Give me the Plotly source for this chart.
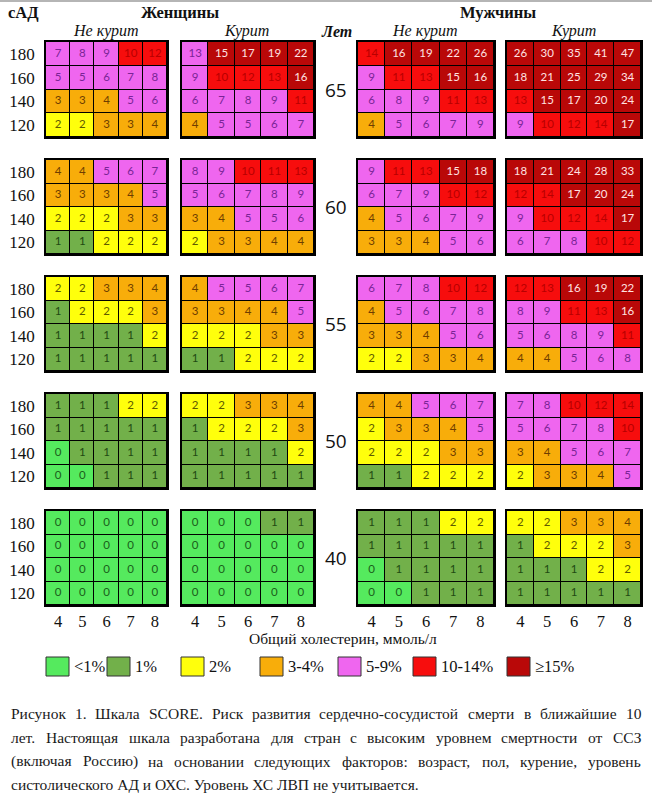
import plotly.graph_objects as go

W, H = 652, 797

# ---------------- data ----------------
AGES = [65, 60, 55, 50, 40]
SBP_LEVELS = [180, 160, 140, 120]          # rows, top to bottom
CHOLESTEROL = [4, 5, 6, 7, 8]              # columns

women_nonsmoker = [
    [[7, 8, 9, 10, 12], [5, 5, 6, 7, 8], [3, 3, 4, 5, 6], [2, 2, 3, 3, 4]],
    [[4, 4, 5, 6, 7], [3, 3, 3, 4, 5], [2, 2, 2, 3, 3], [1, 1, 2, 2, 2]],
    [[2, 2, 3, 3, 4], [1, 2, 2, 2, 3], [1, 1, 1, 1, 2], [1, 1, 1, 1, 1]],
    [[1, 1, 1, 2, 2], [1, 1, 1, 1, 1], [0, 1, 1, 1, 1], [0, 0, 1, 1, 1]],
    [[0, 0, 0, 0, 0], [0, 0, 0, 0, 0], [0, 0, 0, 0, 0], [0, 0, 0, 0, 0]],
]
women_smoker = [
    [[13, 15, 17, 19, 22], [9, 10, 12, 13, 16], [6, 7, 8, 9, 11], [4, 5, 5, 6, 7]],
    [[8, 9, 10, 11, 13], [5, 6, 7, 8, 9], [3, 4, 5, 5, 6], [2, 3, 3, 4, 4]],
    [[4, 5, 5, 6, 7], [3, 3, 4, 4, 5], [2, 2, 2, 3, 3], [1, 1, 2, 2, 2]],
    [[2, 2, 3, 3, 4], [1, 2, 2, 2, 3], [1, 1, 1, 1, 2], [1, 1, 1, 1, 1]],
    [[0, 0, 0, 1, 1], [0, 0, 0, 0, 0], [0, 0, 0, 0, 0], [0, 0, 0, 0, 0]],
]
men_nonsmoker = [
    [[14, 16, 19, 22, 26], [9, 11, 13, 15, 16], [6, 8, 9, 11, 13], [4, 5, 6, 7, 9]],
    [[9, 11, 13, 15, 18], [6, 7, 9, 10, 12], [4, 5, 6, 7, 9], [3, 3, 4, 5, 6]],
    [[6, 7, 8, 10, 12], [4, 5, 6, 7, 8], [3, 3, 4, 5, 6], [2, 2, 3, 3, 4]],
    [[4, 4, 5, 6, 7], [2, 3, 3, 4, 5], [2, 2, 2, 3, 3], [1, 1, 2, 2, 2]],
    [[1, 1, 1, 2, 2], [1, 1, 1, 1, 1], [0, 1, 1, 1, 1], [0, 0, 1, 1, 1]],
]
men_smoker = [
    [[26, 30, 35, 41, 47], [18, 21, 25, 29, 34], [13, 15, 17, 20, 24], [9, 10, 12, 14, 17]],
    [[18, 21, 24, 28, 33], [12, 14, 17, 20, 24], [9, 10, 12, 14, 17], [6, 7, 8, 10, 12]],
    [[12, 13, 16, 19, 22], [8, 9, 11, 13, 16], [5, 6, 8, 9, 11], [4, 4, 5, 6, 8]],
    [[7, 8, 10, 12, 14], [5, 6, 7, 8, 10], [3, 4, 5, 6, 7], [2, 3, 3, 4, 5]],
    [[2, 2, 3, 3, 4], [1, 2, 2, 2, 3], [1, 1, 1, 2, 2], [1, 1, 1, 1, 1]],
]

RISK_LABELS = ["<1%", "1%", "2%", "3-4%", "5-9%", "10-14%", "≥15%"]
RISK_MAX = [0, 1, 2, 4, 9, 14, 100]
RISK_COLORS = ["#55EA5E", "#72B04A", "#FFFF0C", "#F8AD0A", "#EF66EF", "#F70D0D", "#B90808"]
RISK_TEXT_COLORS = ["#1B5E1B", "#1F4A12", "#5E5A00", "#6E3E00", "#7A2496", "#B80000", "#FFE2E2"]

# (group index, age, SBP, cholesterol) -> risk category, where the source colours a cell
# differently from the band of its printed value
COLOR_OVERRIDES = {(1, 65, 180, 4): 4}

CAPTION_LINES = [
    "Рисунок 1. Шкала SCORE. Риск развития сердечно-сосудистой смерти в ближайшие 10",
    "лет. Настоящая шкала разработана для стран с высоким уровнем смертности от ССЗ",
    "(включая Россию) на основании следующих факторов: возраст, пол, курение, уровень",
    "систолического АД и ОХС. Уровень ХС ЛВП не учитывается.",
]

# ---------------- layout geometry (pixels) ----------------
GROUP_X = [(46, 167), (182, 314), (358, 494), (507, 641)]
AGE_Y = [(42, 137), (160, 254), (277, 371), (394, 488), (511, 605)]
SERIF = "Liberation Serif, Times New Roman, serif"
CELLFONT = "Lato, Open Sans, sans-serif"


def px(x):
    return x / W


def py(y):
    return 1 - y / H


def risk_category(v):
    for i, m in enumerate(RISK_MAX):
        if v <= m:
            return i
    return len(RISK_MAX) - 1


n = len(RISK_COLORS)
colorscale = []
for i, c in enumerate(RISK_COLORS):
    colorscale.append([i / n, c])
    colorscale.append([(i + 1) / n, c])

fig = go.Figure()
axes = {}
groups = [women_nonsmoker, women_smoker, men_nonsmoker, men_smoker]
k = 0
for ai, age in enumerate(AGES):
    for gi, grp in enumerate(groups):
        k += 1
        sfx = "" if k == 1 else str(k)
        block = grp[ai]
        cats = [[COLOR_OVERRIDES.get((gi, age, s, c), risk_category(v))
                 for v, c in zip(row, CHOLESTEROL)]
                for row, s in zip(block, SBP_LEVELS)]
        fig.add_trace(go.Heatmap(
            x=CHOLESTEROL, y=SBP_LEVELS[::-1], z=cats[::-1],
            colorscale=colorscale, zmin=-0.5, zmax=n - 0.5, showscale=False,
            xgap=1, ygap=1, hoverinfo="skip",
            xaxis="x" + sfx, yaxis="y" + sfx))
        xs, ys, ts, cs = [], [], [], []
        for row, s, crow in zip(block, SBP_LEVELS, cats):
            for v, c, cat in zip(row, CHOLESTEROL, crow):
                xs.append(c)
                ys.append(s)
                ts.append(str(v))
                cs.append(RISK_TEXT_COLORS[cat])
        fig.add_trace(go.Scatter(
            x=xs, y=ys, text=ts, mode="text",
            textfont=dict(family=CELLFONT, size=11.5, color=cs),
            hoverinfo="skip", showlegend=False,
            xaxis="x" + sfx, yaxis="y" + sfx))
        x0, x1 = GROUP_X[gi]
        y0, y1 = AGE_Y[ai]
        axes["xaxis" + sfx] = dict(
            domain=[px(x0), px(x1)], anchor="y" + sfx, range=[3.5, 8.5],
            tickvals=CHOLESTEROL, ticktext=[str(c) for c in CHOLESTEROL],
            showticklabels=(ai == len(AGES) - 1), ticks="", ticklabelstandoff=0,
            tickfont=dict(family=SERIF, size=16.5, color="#111"),
            showgrid=False, zeroline=False, showline=True, mirror=True,
            linecolor="#000", linewidth=1.5, fixedrange=True)
        axes["yaxis" + sfx] = dict(
            domain=[py(y1), py(y0)], anchor="x" + sfx, range=[110, 190],
            tickvals=SBP_LEVELS, ticktext=[str(s) for s in SBP_LEVELS],
            showticklabels=(gi == 0), ticks="", ticklabelstandoff=6,
            tickfont=dict(family=SERIF, size=17, color="#111"),
            showgrid=False, zeroline=False, showline=True, mirror=True,
            linecolor="#000", linewidth=1.5, fixedrange=True)

annotations = []


def ann(text, x, y, size, family=SERIF, xanchor="center", color="#111"):
    annotations.append(dict(text=text, x=px(x), y=py(y), xref="paper", yref="paper",
                            xanchor=xanchor, yanchor="middle", showarrow=False,
                            borderpad=0, font=dict(family=family, size=size, color=color)))


ann("<b>сАД</b>", 7, 12, 16.5, xanchor="left")
ann("<b>Женщины</b>", 180, 12, 16.5)
ann("<b>Мужчины</b>", 498, 12, 16.5)
ann("<i>Не курит</i>", 106, 31, 16)
ann("<i>Курит</i>", 247, 31, 16)
ann("<b><i>Лет</i></b>", 336, 31, 16)
ann("<i>Не курит</i>", 425, 31, 16)
ann("<i>Курит</i>", 573, 31, 16)
for age, (y0, y1) in zip(AGES, AGE_Y):
    ann(str(age), 336, (y0 + y1) / 2, 19, family="Open Sans, Liberation Sans, sans-serif")
ann("Общий холестерин, ммоль/л", 343, 638, 15.5)

# legend
LEG_X = [46, 107, 181, 260, 338, 413, 507]
shapes = []
for lx, lab, col in zip(LEG_X, RISK_LABELS, RISK_COLORS):
    shapes.append(dict(type="rect", xref="paper", yref="paper",
                       x0=px(lx), x1=px(lx + 23), y0=py(676), y1=py(657),
                       fillcolor=col, line=dict(color="#333", width=1)))
    ann(lab, lx + 27, 666, 16.5, xanchor="left")

# top gray rule of the source page
shapes.append(dict(type="rect", xref="paper", yref="paper", x0=0, x1=1,
                   y0=py(2), y1=1, fillcolor="#b5b5b5", line=dict(width=0)))

# caption, justified
W_UP = {"А": 722, "Б": 574, "В": 667, "Г": 578, "Д": 682, "Е": 611, "Ж": 896, "З": 501,
        "И": 722, "Й": 722, "К": 669, "Л": 678, "М": 889, "Н": 722, "О": 722, "П": 722,
        "Р": 556, "С": 667, "Т": 611, "У": 706, "Ф": 790, "Х": 722, "Ц": 722, "Ч": 650,
        "Ш": 1008, "Щ": 1008, "Ъ": 706, "Ы": 872, "Ь": 574, "Э": 660, "Ю": 1028, "Я": 668,
        "S": 556, "C": 667, "O": 722, "R": 667, "E": 611}
W_LO = {"а": 444, "б": 509, "в": 472, "г": 410, "д": 509, "е": 444, "ж": 691, "з": 395,
        "и": 535, "й": 535, "к": 486, "л": 499, "м": 633, "н": 535, "о": 500, "п": 535,
        "р": 500, "с": 444, "т": 437, "у": 500, "ф": 648, "х": 500, "ц": 535, "ч": 503,
        "ш": 770, "щ": 770, "ъ": 517, "ы": 672, "ь": 456, "э": 429, "ю": 747, "я": 460}
W_OT = {" ": 250, ".": 250, ",": 250, ":": 278, "(": 333, ")": 333, "-": 333}


def text_w(s, size):
    tot = 0
    for ch in s:
        tot += W_UP.get(ch, W_LO.get(ch, W_OT.get(ch, 500)))
    return tot * size / 1000


CAP_SIZE = 15.5
CAP_LEFT, CAP_RIGHT = 10, 640
cap_y = [713, 737, 761, 784]
for li, (line, yy) in enumerate(zip(CAPTION_LINES, cap_y)):
    words = line.split(" ")
    if li == len(CAPTION_LINES) - 1:
        ann(line, CAP_LEFT, yy, CAP_SIZE, xanchor="left", color="#1a1a1a")
        continue
    ws = [text_w(w, CAP_SIZE) for w in words]
    gap = (CAP_RIGHT - CAP_LEFT - sum(ws)) / (len(words) - 1)
    gap = max(gap, 2)
    x = CAP_LEFT
    for w, ww in zip(words, ws):
        ann(w, x, yy, CAP_SIZE, xanchor="left", color="#1a1a1a")
        x += ww + gap

fig.update_layout(
    width=W, height=H, margin=dict(l=0, r=0, t=0, b=0),
    paper_bgcolor="#ffffff", plot_bgcolor="#000000",
    showlegend=False, annotations=annotations, shapes=shapes, **axes)

fig.write_html(
    "out.html",
    config={"displayModeBar": False},
    post_script="document.body.style.margin='0';document.body.style.overflow='hidden';"
                "window.dispatchEvent(new Event('resize'));")
